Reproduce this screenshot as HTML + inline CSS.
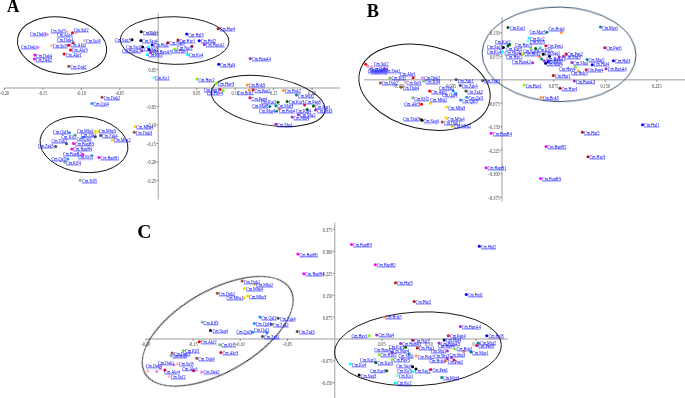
<!DOCTYPE html>
<html><head><meta charset="utf-8"><style>
html,body{margin:0;padding:0;background:#fff;}
body{width:685px;height:398px;overflow:hidden;}
svg{display:block;}
.lb,.tk,.big{opacity:0.999;}
.lb text{font-family:"Liberation Serif",serif;font-size:4.2px;fill:#1a1aff;stroke:#1a1aff;stroke-width:0.05px;}
.tk text{font-family:"Liberation Serif",serif;font-size:4.3px;fill:#3a3a3a;}
.big{font-family:"Liberation Serif",serif;font-weight:bold;fill:#000;}
</style></head><body>
<svg width="685" height="398" viewBox="0 0 685 398">
<g><line x1="4.5" y1="88" x2="340" y2="88" stroke="#bcbcbc" stroke-width="1.4"/>
<line x1="158.3" y1="13.4" x2="158.3" y2="199.5" stroke="#bcbcbc" stroke-width="1.4"/>
<line x1="4.5" y1="88" x2="4.5" y2="90" stroke="#555" stroke-width="0.6"/>
<line x1="42.95" y1="88" x2="42.95" y2="90" stroke="#555" stroke-width="0.6"/>
<line x1="81.4" y1="88" x2="81.4" y2="90" stroke="#555" stroke-width="0.6"/>
<line x1="119.85" y1="88" x2="119.85" y2="90" stroke="#555" stroke-width="0.6"/>
<line x1="196.75" y1="88" x2="196.75" y2="90" stroke="#555" stroke-width="0.6"/>
<line x1="235.2" y1="88" x2="235.2" y2="90" stroke="#555" stroke-width="0.6"/>
<line x1="273.65" y1="88" x2="273.65" y2="90" stroke="#555" stroke-width="0.6"/>
<line x1="312.1" y1="88" x2="312.1" y2="90" stroke="#555" stroke-width="0.6"/>
<line x1="156.3" y1="32.5" x2="158.3" y2="32.5" stroke="#555" stroke-width="0.6"/>
<line x1="156.3" y1="51" x2="158.3" y2="51" stroke="#555" stroke-width="0.6"/>
<line x1="156.3" y1="69.5" x2="158.3" y2="69.5" stroke="#555" stroke-width="0.6"/>
<line x1="156.3" y1="106.5" x2="158.3" y2="106.5" stroke="#555" stroke-width="0.6"/>
<line x1="156.3" y1="125" x2="158.3" y2="125" stroke="#555" stroke-width="0.6"/>
<line x1="156.3" y1="143.5" x2="158.3" y2="143.5" stroke="#555" stroke-width="0.6"/>
<line x1="156.3" y1="162" x2="158.3" y2="162" stroke="#555" stroke-width="0.6"/>
<line x1="156.3" y1="180.5" x2="158.3" y2="180.5" stroke="#555" stroke-width="0.6"/>
<line x1="364.3" y1="79.8" x2="685" y2="79.8" stroke="#bcbcbc" stroke-width="1.4"/>
<line x1="502" y1="17" x2="502" y2="201.6" stroke="#bcbcbc" stroke-width="1.4"/>
<line x1="398.8" y1="79.8" x2="398.8" y2="81.8" stroke="#555" stroke-width="0.6"/>
<line x1="450.4" y1="79.8" x2="450.4" y2="81.8" stroke="#555" stroke-width="0.6"/>
<line x1="553.6" y1="79.8" x2="553.6" y2="81.8" stroke="#555" stroke-width="0.6"/>
<line x1="605.2" y1="79.8" x2="605.2" y2="81.8" stroke="#555" stroke-width="0.6"/>
<line x1="656.8" y1="79.8" x2="656.8" y2="81.8" stroke="#555" stroke-width="0.6"/>
<line x1="500" y1="32.84" x2="502" y2="32.84" stroke="#555" stroke-width="0.6"/>
<line x1="500" y1="56.32" x2="502" y2="56.32" stroke="#555" stroke-width="0.6"/>
<line x1="500" y1="103.28" x2="502" y2="103.28" stroke="#555" stroke-width="0.6"/>
<line x1="500" y1="126.76" x2="502" y2="126.76" stroke="#555" stroke-width="0.6"/>
<line x1="500" y1="150.24" x2="502" y2="150.24" stroke="#555" stroke-width="0.6"/>
<line x1="500" y1="173.72" x2="502" y2="173.72" stroke="#555" stroke-width="0.6"/>
<line x1="500" y1="197.2" x2="502" y2="197.2" stroke="#555" stroke-width="0.6"/>
<line x1="145.5" y1="339" x2="507.8" y2="339" stroke="#bcbcbc" stroke-width="1.4"/>
<line x1="334.7" y1="222.7" x2="334.7" y2="398" stroke="#bcbcbc" stroke-width="1.4"/>
<line x1="145.9" y1="339" x2="145.9" y2="341" stroke="#555" stroke-width="0.6"/>
<line x1="193.1" y1="339" x2="193.1" y2="341" stroke="#555" stroke-width="0.6"/>
<line x1="240.3" y1="339" x2="240.3" y2="341" stroke="#555" stroke-width="0.6"/>
<line x1="287.5" y1="339" x2="287.5" y2="341" stroke="#555" stroke-width="0.6"/>
<line x1="381.9" y1="339" x2="381.9" y2="341" stroke="#555" stroke-width="0.6"/>
<line x1="429.1" y1="339" x2="429.1" y2="341" stroke="#555" stroke-width="0.6"/>
<line x1="476.3" y1="339" x2="476.3" y2="341" stroke="#555" stroke-width="0.6"/>
<line x1="332.7" y1="229.5" x2="334.7" y2="229.5" stroke="#555" stroke-width="0.6"/>
<line x1="332.7" y1="251.4" x2="334.7" y2="251.4" stroke="#555" stroke-width="0.6"/>
<line x1="332.7" y1="273.3" x2="334.7" y2="273.3" stroke="#555" stroke-width="0.6"/>
<line x1="332.7" y1="295.2" x2="334.7" y2="295.2" stroke="#555" stroke-width="0.6"/>
<line x1="332.7" y1="317.1" x2="334.7" y2="317.1" stroke="#555" stroke-width="0.6"/>
<line x1="332.7" y1="360.9" x2="334.7" y2="360.9" stroke="#555" stroke-width="0.6"/>
<line x1="332.7" y1="382.8" x2="334.7" y2="382.8" stroke="#555" stroke-width="0.6"/></g>
<g class="tk"><text transform="matrix(1,0,0,1.38,4.5,94.9)" text-anchor="middle">-0.20</text>
<text transform="matrix(1,0,0,1.38,42.95,94.9)" text-anchor="middle">-0.15</text>
<text transform="matrix(1,0,0,1.38,81.4,94.9)" text-anchor="middle">-0.10</text>
<text transform="matrix(1,0,0,1.38,119.85,94.9)" text-anchor="middle">-0.05</text>
<text transform="matrix(1,0,0,1.38,196.75,94.9)" text-anchor="middle">0.05</text>
<text transform="matrix(1,0,0,1.38,235.2,94.9)" text-anchor="middle">0.10</text>
<text transform="matrix(1,0,0,1.38,273.65,94.9)" text-anchor="middle">0.15</text>
<text transform="matrix(1,0,0,1.38,312.1,94.9)" text-anchor="middle">0.20</text>
<text transform="matrix(1,0,0,1.38,156,34.9)" text-anchor="end">0.15</text>
<text transform="matrix(1,0,0,1.38,156,53.4)" text-anchor="end">0.10</text>
<text transform="matrix(1,0,0,1.38,156,71.9)" text-anchor="end">0.05</text>
<text transform="matrix(1,0,0,1.38,156,108.9)" text-anchor="end">-0.05</text>
<text transform="matrix(1,0,0,1.38,156,127.4)" text-anchor="end">-0.10</text>
<text transform="matrix(1,0,0,1.38,156,145.9)" text-anchor="end">-0.15</text>
<text transform="matrix(1,0,0,1.38,156,164.4)" text-anchor="end">-0.20</text>
<text transform="matrix(1,0,0,1.38,156,182.9)" text-anchor="end">-0.25</text>
<text transform="matrix(1,0,0,1.38,398.8,87.8)" text-anchor="middle">-0.150</text>
<text transform="matrix(1,0,0,1.38,450.4,87.8)" text-anchor="middle">-0.075</text>
<text transform="matrix(1,0,0,1.38,553.6,87.8)" text-anchor="middle">0.075</text>
<text transform="matrix(1,0,0,1.38,605.2,87.8)" text-anchor="middle">0.150</text>
<text transform="matrix(1,0,0,1.38,656.8,87.8)" text-anchor="middle">0.225</text>
<text transform="matrix(1,0,0,1.38,499.7,35.24)" text-anchor="end">0.150</text>
<text transform="matrix(1,0,0,1.38,499.7,58.72)" text-anchor="end">0.075</text>
<text transform="matrix(1,0,0,1.38,499.7,105.68)" text-anchor="end">-0.075</text>
<text transform="matrix(1,0,0,1.38,499.7,129.16)" text-anchor="end">-0.150</text>
<text transform="matrix(1,0,0,1.38,499.7,152.64)" text-anchor="end">-0.225</text>
<text transform="matrix(1,0,0,1.38,499.7,176.12)" text-anchor="end">-0.300</text>
<text transform="matrix(1,0,0,1.38,499.7,199.6)" text-anchor="end">-0.375</text>
<text transform="matrix(1,0,0,1.38,145.9,345.8)" text-anchor="middle">-0.20</text>
<text transform="matrix(1,0,0,1.38,193.1,345.8)" text-anchor="middle">-0.15</text>
<text transform="matrix(1,0,0,1.38,240.3,345.8)" text-anchor="middle">-0.10</text>
<text transform="matrix(1,0,0,1.38,287.5,345.8)" text-anchor="middle">-0.05</text>
<text transform="matrix(1,0,0,1.38,381.9,345.8)" text-anchor="middle">0.05</text>
<text transform="matrix(1,0,0,1.38,429.1,345.8)" text-anchor="middle">0.10</text>
<text transform="matrix(1,0,0,1.38,476.3,345.8)" text-anchor="middle">0.15</text>
<text transform="matrix(1,0,0,1.38,332.4,231.9)" text-anchor="end">0.375</text>
<text transform="matrix(1,0,0,1.38,332.4,253.8)" text-anchor="end">0.300</text>
<text transform="matrix(1,0,0,1.38,332.4,275.7)" text-anchor="end">0.225</text>
<text transform="matrix(1,0,0,1.38,332.4,297.6)" text-anchor="end">0.150</text>
<text transform="matrix(1,0,0,1.38,332.4,319.5)" text-anchor="end">0.075</text>
<text transform="matrix(1,0,0,1.38,332.4,363.3)" text-anchor="end">-0.075</text>
<text transform="matrix(1,0,0,1.38,332.4,385.2)" text-anchor="end">-0.150</text></g>
<g><ellipse cx="62.07" cy="45.48" rx="44.95" ry="28.16" transform="rotate(9.08 62.07 45.48)" fill="none" stroke="#111" stroke-width="0.95"/>
<ellipse cx="174.65" cy="40.55" rx="54.35" ry="23.79" transform="rotate(1.17 174.65 40.55)" fill="none" stroke="#111" stroke-width="0.95"/>
<ellipse cx="268.17" cy="101" rx="57.56" ry="23.97" transform="rotate(10.08 268.17 101)" fill="none" stroke="#111" stroke-width="0.95"/>
<ellipse cx="83.99" cy="144.57" rx="44.12" ry="27.86" transform="rotate(6.28 83.99 144.57)" fill="none" stroke="#111" stroke-width="0.95"/>
<ellipse cx="424.54" cy="87.19" rx="66.63" ry="41.56" transform="rotate(12.89 424.54 87.19)" fill="none" stroke="#111" stroke-width="0.95"/>
<ellipse cx="559.06" cy="54.33" rx="76.98" ry="47.3" transform="rotate(0.97 559.06 54.33)" fill="none" stroke="#34506e" stroke-width="1.0"/>
<ellipse cx="217.67" cy="331.28" rx="83.96" ry="40.69" transform="rotate(-30.05 217.67 331.28)" fill="none" stroke="#111" stroke-width="0.95"/>
<ellipse cx="417.96" cy="348.84" rx="83.4" ry="36.82" transform="rotate(-2.98 417.96 348.84)" fill="none" stroke="#111" stroke-width="0.95"/></g>
<g><circle cx="47.3" cy="34.4" r="1.5" fill="#ee82ee"/>
<circle cx="66.8" cy="31.5" r="1.5" fill="#ffb6c1"/>
<circle cx="72.5" cy="32.7" r="1.5" fill="#ff0000"/>
<circle cx="76.3" cy="32.7" r="1.5" fill="#ffb6c1"/>
<circle cx="73.3" cy="42.8" r="1.5" fill="#a0522d"/>
<circle cx="84.7" cy="40.6" r="1.5" fill="#ffb6c1"/>
<circle cx="38" cy="47.3" r="1.5" fill="#ee82ee"/>
<circle cx="51.7" cy="45.6" r="1.5" fill="#ffb6c1"/>
<circle cx="68.8" cy="45.3" r="1.5" fill="#ff0000"/>
<circle cx="70.5" cy="50" r="1.5" fill="#ff0000"/>
<circle cx="64.1" cy="54" r="1.5" fill="#ff0000"/>
<circle cx="34.9" cy="55" r="1.5" fill="#ff00ff"/>
<circle cx="34.4" cy="59" r="1.5" fill="#ff00ff"/>
<circle cx="68.8" cy="66.3" r="1.5" fill="#a0522d"/>
<circle cx="102" cy="97.3" r="1.5" fill="#a0522d"/>
<circle cx="92" cy="103.4" r="1.5" fill="#1e90ff"/>
<circle cx="69.5" cy="132.8" r="1.5" fill="#1e90ff"/>
<circle cx="75.3" cy="134.9" r="1.5" fill="#7cbb7c"/>
<circle cx="95.2" cy="131.4" r="1.5" fill="#ffd700"/>
<circle cx="98" cy="131.4" r="1.5" fill="#ffd700"/>
<circle cx="95.2" cy="136.7" r="1.5" fill="#505050"/>
<circle cx="100.6" cy="135.5" r="1.5" fill="#505050"/>
<circle cx="83.1" cy="137.3" r="1.5" fill="#1e90ff"/>
<circle cx="66.5" cy="143.7" r="1.5" fill="#505050"/>
<circle cx="55.7" cy="146.4" r="1.5" fill="#505050"/>
<circle cx="73.5" cy="143.5" r="1.5" fill="#ff00ff"/>
<circle cx="71.8" cy="149" r="1.5" fill="#ff00ff"/>
<circle cx="82.9" cy="154.6" r="1.5" fill="#ff00ff"/>
<circle cx="92.2" cy="155.4" r="1.5" fill="#7cbb7c"/>
<circle cx="99" cy="157.5" r="1.5" fill="#ff00ff"/>
<circle cx="67.9" cy="159.1" r="1.5" fill="#1e90ff"/>
<circle cx="64.7" cy="162.3" r="1.5" fill="#7cbb7c"/>
<circle cx="112.3" cy="139.9" r="1.5" fill="#ffd700"/>
<circle cx="80.1" cy="180.3" r="1.5" fill="#7cbb7c"/>
<circle cx="135" cy="126.4" r="1.5" fill="#ffd700"/>
<circle cx="134.3" cy="132.3" r="1.5" fill="#a0522d"/>
<circle cx="141.3" cy="31.8" r="1.5" fill="#000000"/>
<circle cx="132.1" cy="39.8" r="1.5" fill="#000000"/>
<circle cx="140.8" cy="40.6" r="1.5" fill="#000000"/>
<circle cx="152.2" cy="45.1" r="1.5" fill="#0000ff"/>
<circle cx="167.7" cy="42.7" r="1.5" fill="#b01818"/>
<circle cx="142.6" cy="46.9" r="1.5" fill="#000000"/>
<circle cx="148.4" cy="46.9" r="1.5" fill="#00ffff"/>
<circle cx="142.1" cy="50.7" r="1.5" fill="#9932cc"/>
<circle cx="149.2" cy="49.6" r="1.5" fill="#000080"/>
<circle cx="150.9" cy="52.4" r="1.5" fill="#9932cc"/>
<circle cx="147" cy="54.7" r="1.5" fill="#00ffff"/>
<circle cx="178" cy="40" r="1.5" fill="#b01818"/>
<circle cx="186.6" cy="34.1" r="1.5" fill="#0000ff"/>
<circle cx="199.2" cy="40.7" r="1.5" fill="#0000ff"/>
<circle cx="204.3" cy="44.5" r="1.5" fill="#9932cc"/>
<circle cx="218.1" cy="28.8" r="1.5" fill="#b01818"/>
<circle cx="191.9" cy="46.3" r="1.5" fill="#b01818"/>
<circle cx="175.1" cy="49" r="1.5" fill="#7fff00"/>
<circle cx="187.7" cy="54.8" r="1.5" fill="#00ffff"/>
<circle cx="250.2" cy="58.4" r="1.5" fill="#9932cc"/>
<circle cx="218.7" cy="64.3" r="1.5" fill="#0000ff"/>
<circle cx="153.7" cy="77.6" r="1.5" fill="#7fffd4"/>
<circle cx="196.8" cy="79" r="1.5" fill="#7fff00"/>
<circle cx="216.3" cy="83.2" r="1.5" fill="#7fff00"/>
<circle cx="220.1" cy="89.6" r="1.5" fill="#e0103c"/>
<circle cx="223.3" cy="90.5" r="1.5" fill="#7fff00"/>
<circle cx="247.2" cy="84.9" r="1.5" fill="#ff9940"/>
<circle cx="249.3" cy="90.2" r="1.5" fill="#ff9940"/>
<circle cx="253" cy="89.8" r="1.5" fill="#e0103c"/>
<circle cx="249.9" cy="97.8" r="1.5" fill="#e0103c"/>
<circle cx="283.4" cy="90.5" r="1.5" fill="#ff9940"/>
<circle cx="296.5" cy="95" r="1.5" fill="#008b8b"/>
<circle cx="278" cy="102.2" r="1.5" fill="#006400"/>
<circle cx="287.1" cy="101.4" r="1.5" fill="#006400"/>
<circle cx="304.6" cy="105.1" r="1.5" fill="#e0103c"/>
<circle cx="313.4" cy="105.9" r="1.5" fill="#006400"/>
<circle cx="269.8" cy="106.5" r="1.5" fill="#008b8b"/>
<circle cx="275.8" cy="105.7" r="1.5" fill="#008b8b"/>
<circle cx="279.2" cy="109" r="1.5" fill="#ff9940"/>
<circle cx="276.6" cy="111.3" r="1.5" fill="#008b8b"/>
<circle cx="307.2" cy="109.4" r="1.5" fill="#006400"/>
<circle cx="315.5" cy="110.1" r="1.5" fill="#9932cc"/>
<circle cx="298.4" cy="114.8" r="1.5" fill="#9932cc"/>
<circle cx="292.1" cy="117.1" r="1.5" fill="#9932cc"/>
<circle cx="275.8" cy="124.2" r="1.5" fill="#9932cc"/>
<circle cx="365.7" cy="64.2" r="1.5" fill="#ff0000"/>
<circle cx="367.9" cy="66.3" r="1.5" fill="#ee82ee"/>
<circle cx="371.9" cy="66.3" r="1.5" fill="#ffb6c1"/>
<circle cx="370.8" cy="68.4" r="1.5" fill="#7cbb7c"/>
<circle cx="384.4" cy="68.2" r="1.5" fill="#ee82ee"/>
<circle cx="386.1" cy="68.9" r="1.5" fill="#ee82ee"/>
<circle cx="413.2" cy="77.7" r="1.5" fill="#ff0000"/>
<circle cx="389.8" cy="78" r="1.5" fill="#7cbb7c"/>
<circle cx="422.4" cy="77.7" r="1.5" fill="#ee82ee"/>
<circle cx="423.6" cy="81" r="1.5" fill="#7cbb7c"/>
<circle cx="405.1" cy="82.3" r="1.5" fill="#ffb6c1"/>
<circle cx="380.4" cy="83" r="1.5" fill="#a0522d"/>
<circle cx="401" cy="87.3" r="1.5" fill="#a0522d"/>
<circle cx="429.6" cy="91.1" r="1.5" fill="#ff0000"/>
<circle cx="412.8" cy="97.7" r="1.5" fill="#7cbb7c"/>
<circle cx="421.5" cy="104.3" r="1.5" fill="#ff0000"/>
<circle cx="430.3" cy="103.2" r="1.5" fill="#ffd700"/>
<circle cx="420.8" cy="119.3" r="1.5" fill="#a0522d"/>
<circle cx="422" cy="120.3" r="1.5" fill="#000000"/>
<circle cx="446.7" cy="107.1" r="1.5" fill="#ffd700"/>
<circle cx="446" cy="117.7" r="1.5" fill="#ffd700"/>
<circle cx="442.2" cy="122.1" r="1.5" fill="#a0522d"/>
<circle cx="452" cy="126.2" r="1.5" fill="#ffd700"/>
<circle cx="456.1" cy="79.4" r="1.5" fill="#505050"/>
<circle cx="482.6" cy="80.5" r="1.5" fill="#505050"/>
<circle cx="460.2" cy="85.4" r="1.5" fill="#505050"/>
<circle cx="465.9" cy="91.1" r="1.5" fill="#505050"/>
<circle cx="453.2" cy="91.1" r="1.5" fill="#1e90ff"/>
<circle cx="455.8" cy="93.6" r="1.5" fill="#1e90ff"/>
<circle cx="466.7" cy="97.3" r="1.5" fill="#1e90ff"/>
<circle cx="460.5" cy="100.1" r="1.5" fill="#1e90ff"/>
<circle cx="491.2" cy="133.2" r="1.5" fill="#ff00ff"/>
<circle cx="546.1" cy="146.5" r="1.5" fill="#ff00ff"/>
<circle cx="486.1" cy="167.7" r="1.5" fill="#ff00ff"/>
<circle cx="540.5" cy="178.4" r="1.5" fill="#ff00ff"/>
<circle cx="582.4" cy="132.2" r="1.5" fill="#b01818"/>
<circle cx="588" cy="156.7" r="1.5" fill="#b01818"/>
<circle cx="642.5" cy="124.8" r="1.5" fill="#0000ff"/>
<circle cx="541.2" cy="97.5" r="1.5" fill="#ff9940"/>
<circle cx="524.1" cy="84.9" r="1.5" fill="#7fff00"/>
<circle cx="560" cy="88.3" r="1.5" fill="#b01818"/>
<circle cx="574.3" cy="81.1" r="1.5" fill="#9932cc"/>
<circle cx="553.3" cy="75.4" r="1.5" fill="#b01818"/>
<circle cx="508" cy="27.4" r="1.5" fill="#006400"/>
<circle cx="546.8" cy="32.2" r="1.5" fill="#008b8b"/>
<circle cx="561.3" cy="32.6" r="1.5" fill="#ff9940"/>
<circle cx="600.5" cy="26.9" r="1.5" fill="#008b8b"/>
<circle cx="528.9" cy="38" r="1.5" fill="#00ffff"/>
<circle cx="527.8" cy="41.2" r="1.5" fill="#7fffd4"/>
<circle cx="508" cy="45.7" r="1.5" fill="#006400"/>
<circle cx="509.7" cy="44.6" r="1.5" fill="#006400"/>
<circle cx="503.4" cy="47.4" r="1.5" fill="#000000"/>
<circle cx="502.3" cy="52" r="1.5" fill="#00ffff"/>
<circle cx="530.6" cy="48" r="1.5" fill="#7fff00"/>
<circle cx="535.7" cy="48.6" r="1.5" fill="#006400"/>
<circle cx="540.4" cy="47.7" r="1.5" fill="#00ffff"/>
<circle cx="545.8" cy="45.8" r="1.5" fill="#e0103c"/>
<circle cx="520.7" cy="53.7" r="1.5" fill="#9932cc"/>
<circle cx="522.7" cy="54.2" r="1.5" fill="#7fff00"/>
<circle cx="532.6" cy="62.7" r="1.5" fill="#9932cc"/>
<circle cx="543.3" cy="54.3" r="1.5" fill="#000000"/>
<circle cx="549.5" cy="56.2" r="1.5" fill="#000000"/>
<circle cx="539.6" cy="57.1" r="1.5" fill="#ff9940"/>
<circle cx="541.6" cy="59" r="1.5" fill="#008b8b"/>
<circle cx="544.2" cy="60.8" r="1.5" fill="#9932cc"/>
<circle cx="545.6" cy="63.3" r="1.5" fill="#000080"/>
<circle cx="559.2" cy="57.1" r="1.5" fill="#9932cc"/>
<circle cx="563.4" cy="56.2" r="1.5" fill="#9932cc"/>
<circle cx="566" cy="54" r="1.5" fill="#e0103c"/>
<circle cx="548.2" cy="61.8" r="1.5" fill="#0000ff"/>
<circle cx="571.8" cy="62.6" r="1.5" fill="#9932cc"/>
<circle cx="587" cy="59.6" r="1.5" fill="#008b8b"/>
<circle cx="592.2" cy="64.7" r="1.5" fill="#0000ff"/>
<circle cx="613.4" cy="60.7" r="1.5" fill="#0000ff"/>
<circle cx="586.2" cy="69.8" r="1.5" fill="#e0103c"/>
<circle cx="606" cy="68.7" r="1.5" fill="#9932cc"/>
<circle cx="575.5" cy="67.1" r="1.5" fill="#7fff00"/>
<circle cx="578.1" cy="70.9" r="1.5" fill="#ff9940"/>
<circle cx="604.7" cy="47.8" r="1.5" fill="#e0103c"/>
<circle cx="351.5" cy="244.4" r="1.5" fill="#ff00ff"/>
<circle cx="297.9" cy="254.1" r="1.5" fill="#ff00ff"/>
<circle cx="375.3" cy="264.8" r="1.5" fill="#ff00ff"/>
<circle cx="303.8" cy="273.8" r="1.5" fill="#ff00ff"/>
<circle cx="395.5" cy="282.7" r="1.5" fill="#b01818"/>
<circle cx="414.1" cy="301.4" r="1.5" fill="#b01818"/>
<circle cx="479.3" cy="246.2" r="1.5" fill="#0000ff"/>
<circle cx="466.2" cy="294.5" r="1.5" fill="#0000ff"/>
<circle cx="242.1" cy="281.1" r="1.5" fill="#a0522d"/>
<circle cx="254.3" cy="284.4" r="1.5" fill="#ffd700"/>
<circle cx="244.2" cy="288.5" r="1.5" fill="#ffd700"/>
<circle cx="217.3" cy="293.2" r="1.5" fill="#a0522d"/>
<circle cx="244" cy="297.9" r="1.5" fill="#ffd700"/>
<circle cx="247.5" cy="296.1" r="1.5" fill="#ffd700"/>
<circle cx="259.9" cy="316.9" r="1.5" fill="#1e90ff"/>
<circle cx="278.1" cy="318.3" r="1.5" fill="#505050"/>
<circle cx="254.3" cy="323.4" r="1.5" fill="#1e90ff"/>
<circle cx="271.5" cy="324.2" r="1.5" fill="#505050"/>
<circle cx="202.2" cy="322" r="1.5" fill="#7cbb7c"/>
<circle cx="210.5" cy="330.4" r="1.5" fill="#000000"/>
<circle cx="252.8" cy="332.2" r="1.5" fill="#1e90ff"/>
<circle cx="266.9" cy="332.9" r="1.5" fill="#1e90ff"/>
<circle cx="262.5" cy="336.6" r="1.5" fill="#505050"/>
<circle cx="297.2" cy="331.5" r="1.5" fill="#505050"/>
<circle cx="199.2" cy="341.7" r="1.5" fill="#ff0000"/>
<circle cx="219.7" cy="344.8" r="1.5" fill="#7cbb7c"/>
<circle cx="220.8" cy="352.6" r="1.5" fill="#ff0000"/>
<circle cx="183.3" cy="350.7" r="1.5" fill="#7cbb7c"/>
<circle cx="172.2" cy="353.1" r="1.5" fill="#a0522d"/>
<circle cx="171" cy="355.6" r="1.5" fill="#7cbb7c"/>
<circle cx="196.7" cy="358.2" r="1.5" fill="#a0522d"/>
<circle cx="174" cy="365" r="1.5" fill="#ee82ee"/>
<circle cx="177.3" cy="363.9" r="1.5" fill="#ffb6c1"/>
<circle cx="160.4" cy="368.8" r="1.5" fill="#ee82ee"/>
<circle cx="193.6" cy="370.8" r="1.5" fill="#ff0000"/>
<circle cx="147.8" cy="371.1" r="1.5" fill="#ffb6c1"/>
<circle cx="156.8" cy="371.6" r="1.5" fill="#ee82ee"/>
<circle cx="164.8" cy="369.9" r="1.5" fill="#ff0000"/>
<circle cx="201.6" cy="372.1" r="1.5" fill="#ee82ee"/>
<circle cx="169.1" cy="376.5" r="1.5" fill="#ffb6c1"/>
<circle cx="384" cy="317.2" r="1.5" fill="#ff9940"/>
<circle cx="369.2" cy="335.8" r="1.5" fill="#7fff00"/>
<circle cx="376.7" cy="334.9" r="1.5" fill="#9932cc"/>
<circle cx="460.3" cy="326.5" r="1.5" fill="#9932cc"/>
<circle cx="448.3" cy="335.7" r="1.5" fill="#e0103c"/>
<circle cx="486.7" cy="335.8" r="1.5" fill="#0000ff"/>
<circle cx="478.3" cy="343" r="1.5" fill="#008b8b"/>
<circle cx="476.7" cy="345.5" r="1.5" fill="#e0103c"/>
<circle cx="412.6" cy="340.3" r="1.5" fill="#b01818"/>
<circle cx="444.2" cy="340.1" r="1.5" fill="#000080"/>
<circle cx="400.6" cy="343.5" r="1.5" fill="#9932cc"/>
<circle cx="439.1" cy="343" r="1.5" fill="#9932cc"/>
<circle cx="417.3" cy="347.9" r="1.5" fill="#b01818"/>
<circle cx="405.6" cy="347.3" r="1.5" fill="#006400"/>
<circle cx="392.1" cy="352.6" r="1.5" fill="#9932cc"/>
<circle cx="409.1" cy="354.1" r="1.5" fill="#008b8b"/>
<circle cx="416" cy="356.1" r="1.5" fill="#ff9940"/>
<circle cx="379" cy="354.8" r="1.5" fill="#7fff00"/>
<circle cx="392.1" cy="359.5" r="1.5" fill="#7fff00"/>
<circle cx="375.8" cy="362.4" r="1.5" fill="#006400"/>
<circle cx="350.3" cy="364.1" r="1.5" fill="#00ffff"/>
<circle cx="386.7" cy="370.8" r="1.5" fill="#006400"/>
<circle cx="412.6" cy="366.7" r="1.5" fill="#000000"/>
<circle cx="416" cy="368.9" r="1.5" fill="#000000"/>
<circle cx="412.9" cy="371.4" r="1.5" fill="#00ffff"/>
<circle cx="359.1" cy="375" r="1.5" fill="#000000"/>
<circle cx="397.2" cy="375.5" r="1.5" fill="#7fffd4"/>
<circle cx="395.3" cy="383" r="1.5" fill="#00ffff"/>
<circle cx="455" cy="348.9" r="1.5" fill="#7fff00"/>
<circle cx="447.4" cy="351.1" r="1.5" fill="#9932cc"/>
<circle cx="463.8" cy="351.6" r="1.5" fill="#ff9940"/>
<circle cx="470.9" cy="352" r="1.5" fill="#008b8b"/>
<circle cx="451.5" cy="357.4" r="1.5" fill="#9932cc"/>
<circle cx="447.4" cy="358.9" r="1.5" fill="#9932cc"/>
<circle cx="445.8" cy="360.8" r="1.5" fill="#ff9940"/>
<circle cx="454" cy="359.9" r="1.5" fill="#e0103c"/>
<circle cx="430.7" cy="369.6" r="1.5" fill="#e0103c"/>
<circle cx="441.7" cy="377.6" r="1.5" fill="#008b8b"/></g>
<g class="lb"><text transform="matrix(1,0,0,1.3,29.9,36.45)">Cm.Dek3</text>
<text transform="matrix(1,0,0,1.3,50.7,33.25)">Cm.Sul5</text>
<text transform="matrix(1,0,0,1.3,57,36.95)">Cm.Akr4</text>
<text transform="matrix(1,0,0,1.3,73.8,31.65)">Cm.Sul2</text>
<text transform="matrix(1,0,0,1.3,57,42.05)">Cm.Duk4</text>
<text transform="matrix(1,0,0,1.3,85.9,42.85)">Cm.Sul4</text>
<text transform="matrix(1,0,0,1.3,21,48.75)">Cm.Dek1</text>
<text transform="matrix(1,0,0,1.3,52.9,48.35)">Cm.Sul3</text>
<text transform="matrix(1,0,0,1.3,70.5,47.35)">Cm.Akr2</text>
<text transform="matrix(1,0,0,1.3,71.8,52.45)">Cm.Akr3</text>
<text transform="matrix(1,0,0,1.3,65.8,56.65)">Cm.Akr1</text>
<text transform="matrix(1,0,0,1.3,36,57.65)">Cm.Dek4</text>
<text transform="matrix(1,0,0,1.3,35.7,61.65)">Cm.Dek2</text>
<text transform="matrix(1,0,0,1.3,70.5,68.85)">Cm.Duk1</text>
<text transform="matrix(1,0,0,1.3,103.7,99.95)">Cm.Duk2</text>
<text transform="matrix(1,0,0,1.3,93.5,105.95)">Cm.Qal4</text>
<text transform="matrix(1,0,0,1.3,53.1,134.35)">Cm.Qal3</text>
<text transform="matrix(1,0,0,1.3,61.3,139.35)">Cm.Kif2</text>
<text transform="matrix(1,0,0,1.3,77,132.85)">Cm.Mba1</text>
<text transform="matrix(1,0,0,1.3,98.9,133.25)">Cm.Mba3</text>
<text transform="matrix(1,0,0,1.3,81.1,136.65)">Cm.Zak1</text>
<text transform="matrix(1,0,0,1.3,102,138.25)">Cm.Zak4</text>
<text transform="matrix(1,0,0,1.3,76.5,141.35)">Cm.Qal1</text>
<text transform="matrix(1,0,0,1.3,51.4,142.85)">Cm.Zak2</text>
<text transform="matrix(1,0,0,1.3,37.9,148.15)">Cm.Zak3</text>
<text transform="matrix(1,0,0,1.3,75,145.65)">Cm.BanB3</text>
<text transform="matrix(1,0,0,1.3,73.3,151.25)">Cm.BanB4</text>
<text transform="matrix(1,0,0,1.3,63,156.35)">Cm.BanB2</text>
<text transform="matrix(1,0,0,1.3,78.2,159.45)">Cm.Kif1</text>
<text transform="matrix(1,0,0,1.3,100.4,159.75)">Cm.BanB1</text>
<text transform="matrix(1,0,0,1.3,51.4,160.85)">Cm.Qal2</text>
<text transform="matrix(1,0,0,1.3,66,164.75)">Cm.Kif4</text>
<text transform="matrix(1,0,0,1.3,113.7,142.25)">Cm.Mba2</text>
<text transform="matrix(1,0,0,1.3,82.3,182.85)">Cm.Kif5</text>
<text transform="matrix(1,0,0,1.3,136.3,129.35)">Cm.Mba4</text>
<text transform="matrix(1,0,0,1.3,135.8,135.25)">Cm.Duk3</text>
<text transform="matrix(1,0,0,1.3,142.9,34.65)">Cm.Saq1</text>
<text transform="matrix(1,0,0,1.3,115,41.85)">Cm.Saq3</text>
<text transform="matrix(1,0,0,1.3,142.1,43.15)">Cm.Saq4</text>
<text transform="matrix(1,0,0,1.3,153.7,47.35)">Cm.Hal1</text>
<text transform="matrix(1,0,0,1.3,169.2,45.35)">Cm.Nar3</text>
<text transform="matrix(1,0,0,1.3,126.1,48.65)">Cm.Saq2</text>
<text transform="matrix(1,0,0,1.3,144.1,51.35)">Cm.Ko3</text>
<text transform="matrix(1,0,0,1.3,122,52.75)">Cm.BanA2</text>
<text transform="matrix(1,0,0,1.3,152.7,54.45)">Cm.BanA3</text>
<text transform="matrix(1,0,0,1.3,148.2,57.45)">Cm.Ko2</text>
<text transform="matrix(1,0,0,1.3,179.5,42.75)">Cm.Har1</text>
<text transform="matrix(1,0,0,1.3,188.3,37.05)">Cm.Hal3</text>
<text transform="matrix(1,0,0,1.3,200.7,43.35)">Cm.Hal2</text>
<text transform="matrix(1,0,0,1.3,205.8,46.85)">Cm.BanA1</text>
<text transform="matrix(1,0,0,1.3,219.6,31.15)">Cm.Har4</text>
<text transform="matrix(1,0,0,1.3,177.1,50.35)">Cm.Nar2</text>
<text transform="matrix(1,0,0,1.3,171.8,53.35)">Cm.Hav1</text>
<text transform="matrix(1,0,0,1.3,188.9,57.45)">Cm.Ko4</text>
<text transform="matrix(1,0,0,1.3,251.9,60.85)">Cm.BanA4</text>
<text transform="matrix(1,0,0,1.3,220.2,66.85)">Cm.Hal4</text>
<text transform="matrix(1,0,0,1.3,155.1,80.15)">Cm.Ko1</text>
<text transform="matrix(1,0,0,1.3,198.3,81.65)">Cm.Hav2</text>
<text transform="matrix(1,0,0,1.3,217.8,85.85)">Cm.Hav3</text>
<text transform="matrix(1,0,0,1.3,203.8,91.75)">Cm.Pen1</text>
<text transform="matrix(1,0,0,1.3,206.7,95.05)">Cm.Hav4</text>
<text transform="matrix(1,0,0,1.3,248.7,87.45)">Cm.Bok3</text>
<text transform="matrix(1,0,0,1.3,237.6,94.55)">Cm.Bok1</text>
<text transform="matrix(1,0,0,1.3,254.6,92.55)">Cm.Pen2</text>
<text transform="matrix(1,0,0,1.3,251.6,100.65)">Cm.Pen4</text>
<text transform="matrix(1,0,0,1.3,284.8,93.05)">Cm.Bok2</text>
<text transform="matrix(1,0,0,1.3,298,97.75)">Cm.Mar2</text>
<text transform="matrix(1,0,0,1.3,260.8,104.35)">Cm.Kar2</text>
<text transform="matrix(1,0,0,1.3,288.9,103.75)">Cm.Kar3</text>
<text transform="matrix(1,0,0,1.3,305.2,103.95)">Cm.Pen3</text>
<text transform="matrix(1,0,0,1.3,315.1,108.65)">Cm.Kar1</text>
<text transform="matrix(1,0,0,1.3,252.2,108.25)">Cm.Mar6</text>
<text transform="matrix(1,0,0,1.3,277.2,107.65)">Cm.Mar3</text>
<text transform="matrix(1,0,0,1.3,279,113.25)">Cm.Bok4</text>
<text transform="matrix(1,0,0,1.3,259.1,113.25)">Cm.Mar4</text>
<text transform="matrix(1,0,0,1.3,295.9,113.25)">Cm.Kar4</text>
<text transform="matrix(1,0,0,1.3,316.9,112.75)">Cm.Sha3</text>
<text transform="matrix(1,0,0,1.3,300,116.75)">Cm.Sha2</text>
<text transform="matrix(1,0,0,1.3,293.5,119.75)">Cm.Sha4</text>
<text transform="matrix(1,0,0,1.3,277.2,126.75)">Cm.Sha1</text>
<text transform="matrix(1,0,0,1.3,373.8,65.75)">Cm.Sul2</text>
<text transform="matrix(1,0,0,1.3,372.1,71.25)">Cm.Dek4</text>
<text transform="matrix(1,0,0,1.3,369.5,72.35)">Cm.Dek5</text>
<text transform="matrix(1,0,0,1.3,367.7,73.45)">Cm.Sul1</text>
<text transform="matrix(1,0,0,1.3,371,73.95)">Cm.Dek3</text>
<text transform="matrix(1,0,0,1.3,384.4,73.45)">Cm.Dek1</text>
<text transform="matrix(1,0,0,1.3,400,76.05)">Cm.Akr1</text>
<text transform="matrix(1,0,0,1.3,391.4,80.05)">Cm.Kif1</text>
<text transform="matrix(1,0,0,1.3,424.2,80.25)">Cm.Dek2</text>
<text transform="matrix(1,0,0,1.3,425.4,83.95)">Cm.Kif4</text>
<text transform="matrix(1,0,0,1.3,406.6,84.75)">Cm.Sul3</text>
<text transform="matrix(1,0,0,1.3,381.7,85.35)">Cm.Duk2</text>
<text transform="matrix(1,0,0,1.3,402.8,90.05)">Cm.Duk4</text>
<text transform="matrix(1,0,0,1.3,431.3,93.75)">Cm.Akr2</text>
<text transform="matrix(1,0,0,1.3,414.2,100.65)">Cm.Kif2</text>
<text transform="matrix(1,0,0,1.3,404.3,106.05)">Cm.Akr3</text>
<text transform="matrix(1,0,0,1.3,430.3,101.75)">Cm.Mba1</text>
<text transform="matrix(1,0,0,1.3,403.3,121.25)">Cm.Duk3</text>
<text transform="matrix(1,0,0,1.3,423.4,123.45)">Cm.Saq4</text>
<text transform="matrix(1,0,0,1.3,448.3,110.05)">Cm.Mba3</text>
<text transform="matrix(1,0,0,1.3,447.6,120.95)">Cm.Mba4</text>
<text transform="matrix(1,0,0,1.3,443.9,125.05)">Cm.Duk1</text>
<text transform="matrix(1,0,0,1.3,454.2,128.45)">Cm.Mba2</text>
<text transform="matrix(1,0,0,1.3,457.8,82.55)">Cm.Zak1</text>
<text transform="matrix(1,0,0,1.3,484.2,83.45)">Cm.Zak3</text>
<text transform="matrix(1,0,0,1.3,461.8,87.95)">Cm.Zak4</text>
<text transform="matrix(1,0,0,1.3,467.2,94.15)">Cm.Zak2</text>
<text transform="matrix(1,0,0,1.3,439,90.45)">Cm.Qal2</text>
<text transform="matrix(1,0,0,1.3,442.2,97.45)">Cm.Qal4</text>
<text transform="matrix(1,0,0,1.3,468.4,99.85)">Cm.Qal1</text>
<text transform="matrix(1,0,0,1.3,462.3,103.45)">Cm.Qal3</text>
<text transform="matrix(1,0,0,1.3,493,135.75)">Cm.BanB4</text>
<text transform="matrix(1,0,0,1.3,547.5,149.05)">Cm.BanB2</text>
<text transform="matrix(1,0,0,1.3,487.5,170.25)">Cm.BanB1</text>
<text transform="matrix(1,0,0,1.3,542,180.95)">Cm.BanB3</text>
<text transform="matrix(1,0,0,1.3,584,134.75)">Cm.Har2</text>
<text transform="matrix(1,0,0,1.3,589.5,159.25)">Cm.Har3</text>
<text transform="matrix(1,0,0,1.3,644,127.35)">Cm.Hal1</text>
<text transform="matrix(1,0,0,1.3,542.7,99.75)">Cm.Bok5</text>
<text transform="matrix(1,0,0,1.3,525.7,87.55)">Cm.Hav1</text>
<text transform="matrix(1,0,0,1.3,561.5,90.95)">Cm.Har4</text>
<text transform="matrix(1,0,0,1.3,576,83.55)">Cm.BanA3</text>
<text transform="matrix(1,0,0,1.3,555,77.85)">Cm.Har1</text>
<text transform="matrix(1,0,0,1.3,509.9,30.05)">Cm.Kar1</text>
<text transform="matrix(1,0,0,1.3,529.5,33.95)">Cm.Mar5</text>
<text transform="matrix(1,0,0,1.3,548.5,31.35)">Cm.Bok4</text>
<text transform="matrix(1,0,0,1.3,602,29.75)">Cm.Mar1</text>
<text transform="matrix(1,0,0,1.3,530.2,40.55)">Cm.Ko2</text>
<text transform="matrix(1,0,0,1.3,530.2,43.75)">Cm.Ko3</text>
<text transform="matrix(1,0,0,1.3,495,43.75)">Cm.Kar2</text>
<text transform="matrix(1,0,0,1.3,506.3,50.55)">Cm.Kar3</text>
<text transform="matrix(1,0,0,1.3,487,48.65)">Cm.Saq3</text>
<text transform="matrix(1,0,0,1.3,487,53.75)">Cm.Ko4</text>
<text transform="matrix(1,0,0,1.3,515.3,47.15)">Cm.Hav3</text>
<text transform="matrix(1,0,0,1.3,523.2,52.55)">Cm.Kar4</text>
<text transform="matrix(1,0,0,1.3,537.9,52.35)">Cm.Ko1</text>
<text transform="matrix(1,0,0,1.3,547.5,47.85)">Cm.Pen1</text>
<text transform="matrix(1,0,0,1.3,504.6,54.85)">Cm.Sha4</text>
<text transform="matrix(1,0,0,1.3,524.4,56.25)">Cm.Bok2</text>
<text transform="matrix(1,0,0,1.3,506.3,58.85)">Cm.Hav2</text>
<text transform="matrix(1,0,0,1.3,511.9,64.45)">Cm.BanA2</text>
<text transform="matrix(1,0,0,1.3,544.7,55.45)">Cm.Saq1</text>
<text transform="matrix(1,0,0,1.3,565,58.85)">Cm.Sha3</text>
<text transform="matrix(1,0,0,1.3,567.3,55.75)">Cm.Pen2</text>
<text transform="matrix(1,0,0,1.3,546.4,60.55)">Cm.BanA1</text>
<text transform="matrix(1,0,0,1.3,546.4,62.85)">Cm.Hal2</text>
<text transform="matrix(1,0,0,1.3,546.4,65.65)">Cm.Mar4</text>
<text transform="matrix(1,0,0,1.3,573.2,65.15)">Cm.Sha1</text>
<text transform="matrix(1,0,0,1.3,588.5,62.15)">Cm.Mar2</text>
<text transform="matrix(1,0,0,1.3,593.8,66.25)">Cm.Hal4</text>
<text transform="matrix(1,0,0,1.3,615.1,63.05)">Cm.Hal3</text>
<text transform="matrix(1,0,0,1.3,587.7,72.15)">Cm.Pen4</text>
<text transform="matrix(1,0,0,1.3,607.7,71.25)">Cm.BanA4</text>
<text transform="matrix(1,0,0,1.3,559.2,71.35)">Cm.Hav4</text>
<text transform="matrix(1,0,0,1.3,571.3,74.95)">Cm.Bok3</text>
<text transform="matrix(1,0,0,1.3,606.2,50.45)">Cm.Pen5</text>
<text transform="matrix(1,0,0,1.3,353,246.95)">Cm.BanB3</text>
<text transform="matrix(1,0,0,1.3,299.4,256.65)">Cm.BanB1</text>
<text transform="matrix(1,0,0,1.3,376.8,267.35)">Cm.BanB2</text>
<text transform="matrix(1,0,0,1.3,305.3,276.35)">Cm.BanB4</text>
<text transform="matrix(1,0,0,1.3,397,285.25)">Cm.Har3</text>
<text transform="matrix(1,0,0,1.3,415.6,303.95)">Cm.Har2</text>
<text transform="matrix(1,0,0,1.3,480.8,248.75)">Cm.Hal2</text>
<text transform="matrix(1,0,0,1.3,467.7,297.05)">Cm.Hal1</text>
<text transform="matrix(1,0,0,1.3,243.7,283.65)">Cm.Duk1</text>
<text transform="matrix(1,0,0,1.3,256.2,286.85)">Cm.Mba2</text>
<text transform="matrix(1,0,0,1.3,245.9,290.85)">Cm.Mba4</text>
<text transform="matrix(1,0,0,1.3,218.8,295.65)">Cm.Duk2</text>
<text transform="matrix(1,0,0,1.3,226.4,300.05)">Cm.Mba1</text>
<text transform="matrix(1,0,0,1.3,249.2,298.55)">Cm.Mba3</text>
<text transform="matrix(1,0,0,1.3,261.3,319.75)">Cm.Qal2</text>
<text transform="matrix(1,0,0,1.3,280,320.85)">Cm.Zak4</text>
<text transform="matrix(1,0,0,1.3,255.8,325.95)">Cm.Qal4</text>
<text transform="matrix(1,0,0,1.3,273,326.75)">Cm.Zak2</text>
<text transform="matrix(1,0,0,1.3,203.6,324.55)">Cm.Kif3</text>
<text transform="matrix(1,0,0,1.3,212.4,332.95)">Cm.Saq4</text>
<text transform="matrix(1,0,0,1.3,236.5,334.35)">Cm.Qal3</text>
<text transform="matrix(1,0,0,1.3,254,332.15)">Cm.Qal1</text>
<text transform="matrix(1,0,0,1.3,263.9,338.75)">Cm.Zak1</text>
<text transform="matrix(1,0,0,1.3,299,333.85)">Cm.Zak3</text>
<text transform="matrix(1,0,0,1.3,200.8,344.45)">Cm.Akr2</text>
<text transform="matrix(1,0,0,1.3,221.2,347.25)">Cm.Kif5</text>
<text transform="matrix(1,0,0,1.3,222.4,354.95)">Cm.Akr3</text>
<text transform="matrix(1,0,0,1.3,184.9,353.25)">Cm.Kif1</text>
<text transform="matrix(1,0,0,1.3,174,355.85)">Cm.Duk3</text>
<text transform="matrix(1,0,0,1.3,172.4,358.15)">Cm.Kif2</text>
<text transform="matrix(1,0,0,1.3,198.3,361.05)">Cm.Duk4</text>
<text transform="matrix(1,0,0,1.3,158,364.65)">Cm.Dek1</text>
<text transform="matrix(1,0,0,1.3,178.9,366.45)">Cm.Sul3</text>
<text transform="matrix(1,0,0,1.3,145.7,368.45)">Cm.Dek4</text>
<text transform="matrix(1,0,0,1.3,182.2,370.55)">Cm.Akr1</text>
<text transform="matrix(1,0,0,1.3,164.2,374.15)">Cm.Akr4</text>
<text transform="matrix(1,0,0,1.3,203.4,374.45)">Cm.Dek2</text>
<text transform="matrix(1,0,0,1.3,170.7,379.05)">Cm.Sul2</text>
<text transform="matrix(1,0,0,1.3,385.5,319.35)">Cm.Bok5</text>
<text transform="matrix(1,0,0,1.3,351.4,337.55)">Cm.Hav1</text>
<text transform="matrix(1,0,0,1.3,378.4,337.25)">Cm.Sha4</text>
<text transform="matrix(1,0,0,1.3,461.8,329.05)">Cm.BanA4</text>
<text transform="matrix(1,0,0,1.3,450,338.35)">Cm.Pen4</text>
<text transform="matrix(1,0,0,1.3,488.4,338.45)">Cm.Hal3</text>
<text transform="matrix(1,0,0,1.3,480,345.45)">Cm.Mar2</text>
<text transform="matrix(1,0,0,1.3,478.3,348.25)">Cm.Pen3</text>
<text transform="matrix(1,0,0,1.3,414.1,342.75)">Cm.Nar2</text>
<text transform="matrix(1,0,0,1.3,445.8,342.45)">Cm.Hal4</text>
<text transform="matrix(1,0,0,1.3,402.2,346.15)">Cm.BanA1</text>
<text transform="matrix(1,0,0,1.3,440.8,345.55)">Cm.BanA3</text>
<text transform="matrix(1,0,0,1.3,438.3,348.45)">Cm.Hav4</text>
<text transform="matrix(1,0,0,1.3,418.8,349.95)">Cm.Har1</text>
<text transform="matrix(1,0,0,1.3,389,349.35)">Cm.Kar1</text>
<text transform="matrix(1,0,0,1.3,374.2,352.45)">Cm.BanA2</text>
<text transform="matrix(1,0,0,1.3,392.8,352.85)">Cm.Mar4</text>
<text transform="matrix(1,0,0,1.3,398.4,358.15)">Cm.Saq1</text>
<text transform="matrix(1,0,0,1.3,417.8,358.75)">Cm.Bok2</text>
<text transform="matrix(1,0,0,1.3,380.5,357.15)">Cm.Hav2</text>
<text transform="matrix(1,0,0,1.3,393.6,361.85)">Cm.Hav3</text>
<text transform="matrix(1,0,0,1.3,360.1,361.65)">Cm.Kar2</text>
<text transform="matrix(1,0,0,1.3,377.4,365.35)">Cm.Kar3</text>
<text transform="matrix(1,0,0,1.3,351.9,366.65)">Cm.Ko4</text>
<text transform="matrix(1,0,0,1.3,370.2,372.55)">Cm.Kar4</text>
<text transform="matrix(1,0,0,1.3,396.3,368.45)">Cm.Saq4</text>
<text transform="matrix(1,0,0,1.3,397.2,373.15)">Cm.Ko3</text>
<text transform="matrix(1,0,0,1.3,415,373.25)">Cm.Saq2</text>
<text transform="matrix(1,0,0,1.3,360.7,377.55)">Cm.Saq3</text>
<text transform="matrix(1,0,0,1.3,398.8,378.25)">Cm.Ko1</text>
<text transform="matrix(1,0,0,1.3,397.2,385.45)">Cm.Ko2</text>
<text transform="matrix(1,0,0,1.3,456.5,350.65)">Cm.Bok1</text>
<text transform="matrix(1,0,0,1.3,430.7,353.15)">Cm.Sha1</text>
<text transform="matrix(1,0,0,1.3,472.2,354.65)">Cm.Mar1</text>
<text transform="matrix(1,0,0,1.3,433.9,358.15)">Cm.Sha2</text>
<text transform="matrix(1,0,0,1.3,449.6,356.95)">Cm.Sha3</text>
<text transform="matrix(1,0,0,1.3,429.5,362.55)">Cm.Bok4</text>
<text transform="matrix(1,0,0,1.3,447.7,363.85)">Cm.Pen2</text>
<text transform="matrix(1,0,0,1.3,432.4,372.25)">Cm.Pen1</text>
<text transform="matrix(1,0,0,1.3,443,380.05)">Cm.Mar3</text></g>
<g fill="#3030ff"><rect x="29.9" y="36.75" width="16.22" height="0.32"/>
<rect x="50.7" y="33.55" width="14.82" height="0.32"/>
<rect x="57" y="37.25" width="15.75" height="0.32"/>
<rect x="73.8" y="31.95" width="14.82" height="0.32"/>
<rect x="57" y="42.35" width="16.45" height="0.32"/>
<rect x="85.9" y="43.15" width="14.82" height="0.32"/>
<rect x="21" y="49.05" width="16.22" height="0.32"/>
<rect x="52.9" y="48.65" width="14.82" height="0.32"/>
<rect x="70.5" y="47.65" width="15.75" height="0.32"/>
<rect x="71.8" y="52.75" width="15.75" height="0.32"/>
<rect x="65.8" y="56.95" width="15.75" height="0.32"/>
<rect x="36" y="57.95" width="16.22" height="0.32"/>
<rect x="35.7" y="61.95" width="16.22" height="0.32"/>
<rect x="70.5" y="69.15" width="16.45" height="0.32"/>
<rect x="103.7" y="100.25" width="16.45" height="0.32"/>
<rect x="93.5" y="106.25" width="15.28" height="0.32"/>
<rect x="53.1" y="134.65" width="15.28" height="0.32"/>
<rect x="61.3" y="139.65" width="14.82" height="0.32"/>
<rect x="77" y="133.15" width="16.92" height="0.32"/>
<rect x="98.9" y="133.55" width="16.92" height="0.32"/>
<rect x="81.1" y="136.95" width="15.75" height="0.32"/>
<rect x="102" y="138.55" width="15.75" height="0.32"/>
<rect x="76.5" y="141.65" width="15.28" height="0.32"/>
<rect x="51.4" y="143.15" width="15.75" height="0.32"/>
<rect x="37.9" y="148.45" width="15.75" height="0.32"/>
<rect x="75" y="145.95" width="18.79" height="0.32"/>
<rect x="73.3" y="151.55" width="18.79" height="0.32"/>
<rect x="63" y="156.65" width="18.79" height="0.32"/>
<rect x="78.2" y="159.75" width="14.82" height="0.32"/>
<rect x="100.4" y="160.05" width="18.79" height="0.32"/>
<rect x="51.4" y="161.15" width="15.28" height="0.32"/>
<rect x="66" y="165.05" width="14.82" height="0.32"/>
<rect x="113.7" y="142.55" width="16.92" height="0.32"/>
<rect x="82.3" y="183.15" width="14.82" height="0.32"/>
<rect x="136.3" y="129.65" width="16.92" height="0.32"/>
<rect x="135.8" y="135.55" width="16.45" height="0.32"/>
<rect x="142.9" y="34.95" width="15.52" height="0.32"/>
<rect x="115" y="42.15" width="15.52" height="0.32"/>
<rect x="142.1" y="43.45" width="15.52" height="0.32"/>
<rect x="153.7" y="47.65" width="15.28" height="0.32"/>
<rect x="169.2" y="45.65" width="15.51" height="0.32"/>
<rect x="126.1" y="48.95" width="15.52" height="0.32"/>
<rect x="144.1" y="51.65" width="14.35" height="0.32"/>
<rect x="122" y="53.05" width="19.02" height="0.32"/>
<rect x="152.7" y="54.75" width="19.02" height="0.32"/>
<rect x="148.2" y="57.75" width="14.35" height="0.32"/>
<rect x="179.5" y="43.05" width="15.51" height="0.32"/>
<rect x="188.3" y="37.35" width="15.28" height="0.32"/>
<rect x="200.7" y="43.65" width="15.28" height="0.32"/>
<rect x="205.8" y="47.15" width="19.02" height="0.32"/>
<rect x="219.6" y="31.45" width="15.51" height="0.32"/>
<rect x="177.1" y="50.65" width="15.51" height="0.32"/>
<rect x="171.8" y="53.65" width="16.22" height="0.32"/>
<rect x="188.9" y="57.75" width="14.35" height="0.32"/>
<rect x="251.9" y="61.15" width="19.02" height="0.32"/>
<rect x="220.2" y="67.15" width="15.28" height="0.32"/>
<rect x="155.1" y="80.45" width="14.35" height="0.32"/>
<rect x="198.3" y="81.95" width="16.22" height="0.32"/>
<rect x="217.8" y="86.15" width="16.22" height="0.32"/>
<rect x="203.8" y="92.05" width="15.52" height="0.32"/>
<rect x="206.7" y="95.35" width="16.22" height="0.32"/>
<rect x="248.7" y="87.75" width="16.22" height="0.32"/>
<rect x="237.6" y="94.85" width="16.22" height="0.32"/>
<rect x="254.6" y="92.85" width="15.52" height="0.32"/>
<rect x="251.6" y="100.95" width="15.52" height="0.32"/>
<rect x="284.8" y="93.35" width="16.22" height="0.32"/>
<rect x="298" y="98.05" width="16.22" height="0.32"/>
<rect x="260.8" y="104.65" width="15.51" height="0.32"/>
<rect x="288.9" y="104.05" width="15.51" height="0.32"/>
<rect x="305.2" y="104.25" width="15.52" height="0.32"/>
<rect x="315.1" y="108.95" width="15.51" height="0.32"/>
<rect x="252.2" y="108.55" width="16.22" height="0.32"/>
<rect x="277.2" y="107.95" width="16.22" height="0.32"/>
<rect x="279" y="113.55" width="16.22" height="0.32"/>
<rect x="259.1" y="113.55" width="16.22" height="0.32"/>
<rect x="295.9" y="113.55" width="15.51" height="0.32"/>
<rect x="316.9" y="113.05" width="15.52" height="0.32"/>
<rect x="300" y="117.05" width="15.52" height="0.32"/>
<rect x="293.5" y="120.05" width="15.52" height="0.32"/>
<rect x="277.2" y="127.05" width="15.52" height="0.32"/>
<rect x="373.8" y="66.05" width="14.82" height="0.32"/>
<rect x="372.1" y="71.55" width="16.22" height="0.32"/>
<rect x="369.5" y="72.65" width="16.22" height="0.32"/>
<rect x="367.7" y="73.75" width="14.82" height="0.32"/>
<rect x="371" y="74.25" width="16.22" height="0.32"/>
<rect x="384.4" y="73.75" width="16.22" height="0.32"/>
<rect x="400" y="76.35" width="15.75" height="0.32"/>
<rect x="391.4" y="80.35" width="14.82" height="0.32"/>
<rect x="424.2" y="80.55" width="16.22" height="0.32"/>
<rect x="425.4" y="84.25" width="14.82" height="0.32"/>
<rect x="406.6" y="85.05" width="14.82" height="0.32"/>
<rect x="381.7" y="85.65" width="16.45" height="0.32"/>
<rect x="402.8" y="90.35" width="16.45" height="0.32"/>
<rect x="431.3" y="94.05" width="15.75" height="0.32"/>
<rect x="414.2" y="100.95" width="14.82" height="0.32"/>
<rect x="404.3" y="106.35" width="15.75" height="0.32"/>
<rect x="430.3" y="102.05" width="16.92" height="0.32"/>
<rect x="403.3" y="121.55" width="16.45" height="0.32"/>
<rect x="423.4" y="123.75" width="15.52" height="0.32"/>
<rect x="448.3" y="110.35" width="16.92" height="0.32"/>
<rect x="447.6" y="121.25" width="16.92" height="0.32"/>
<rect x="443.9" y="125.35" width="16.45" height="0.32"/>
<rect x="454.2" y="128.75" width="16.92" height="0.32"/>
<rect x="457.8" y="82.85" width="15.75" height="0.32"/>
<rect x="484.2" y="83.75" width="15.75" height="0.32"/>
<rect x="461.8" y="88.25" width="15.75" height="0.32"/>
<rect x="467.2" y="94.45" width="15.75" height="0.32"/>
<rect x="439" y="90.75" width="15.28" height="0.32"/>
<rect x="442.2" y="97.75" width="15.28" height="0.32"/>
<rect x="468.4" y="100.15" width="15.28" height="0.32"/>
<rect x="462.3" y="103.75" width="15.28" height="0.32"/>
<rect x="493" y="136.05" width="18.79" height="0.32"/>
<rect x="547.5" y="149.35" width="18.79" height="0.32"/>
<rect x="487.5" y="170.55" width="18.79" height="0.32"/>
<rect x="542" y="181.25" width="18.79" height="0.32"/>
<rect x="584" y="135.05" width="15.51" height="0.32"/>
<rect x="589.5" y="159.55" width="15.51" height="0.32"/>
<rect x="644" y="127.65" width="15.28" height="0.32"/>
<rect x="542.7" y="100.05" width="16.22" height="0.32"/>
<rect x="525.7" y="87.85" width="16.22" height="0.32"/>
<rect x="561.5" y="91.25" width="15.51" height="0.32"/>
<rect x="576" y="83.85" width="19.02" height="0.32"/>
<rect x="555" y="78.15" width="15.51" height="0.32"/>
<rect x="509.9" y="30.35" width="15.51" height="0.32"/>
<rect x="529.5" y="34.25" width="16.22" height="0.32"/>
<rect x="548.5" y="31.65" width="16.22" height="0.32"/>
<rect x="602" y="30.05" width="16.22" height="0.32"/>
<rect x="530.2" y="40.85" width="14.35" height="0.32"/>
<rect x="530.2" y="44.05" width="14.35" height="0.32"/>
<rect x="495" y="44.05" width="15.51" height="0.32"/>
<rect x="506.3" y="50.85" width="15.51" height="0.32"/>
<rect x="487" y="48.95" width="15.52" height="0.32"/>
<rect x="487" y="54.05" width="14.35" height="0.32"/>
<rect x="515.3" y="47.45" width="16.22" height="0.32"/>
<rect x="523.2" y="52.85" width="15.51" height="0.32"/>
<rect x="537.9" y="52.65" width="14.35" height="0.32"/>
<rect x="547.5" y="48.15" width="15.52" height="0.32"/>
<rect x="504.6" y="55.15" width="15.52" height="0.32"/>
<rect x="524.4" y="56.55" width="16.22" height="0.32"/>
<rect x="506.3" y="59.15" width="16.22" height="0.32"/>
<rect x="511.9" y="64.75" width="19.02" height="0.32"/>
<rect x="544.7" y="55.75" width="15.52" height="0.32"/>
<rect x="565" y="59.15" width="15.52" height="0.32"/>
<rect x="567.3" y="56.05" width="15.52" height="0.32"/>
<rect x="546.4" y="60.85" width="19.02" height="0.32"/>
<rect x="546.4" y="63.15" width="15.28" height="0.32"/>
<rect x="546.4" y="65.95" width="16.22" height="0.32"/>
<rect x="573.2" y="65.45" width="15.52" height="0.32"/>
<rect x="588.5" y="62.45" width="16.22" height="0.32"/>
<rect x="593.8" y="66.55" width="15.28" height="0.32"/>
<rect x="615.1" y="63.35" width="15.28" height="0.32"/>
<rect x="587.7" y="72.45" width="15.52" height="0.32"/>
<rect x="607.7" y="71.55" width="19.02" height="0.32"/>
<rect x="559.2" y="71.65" width="16.22" height="0.32"/>
<rect x="571.3" y="75.25" width="16.22" height="0.32"/>
<rect x="606.2" y="50.75" width="15.52" height="0.32"/>
<rect x="353" y="247.25" width="18.79" height="0.32"/>
<rect x="299.4" y="256.95" width="18.79" height="0.32"/>
<rect x="376.8" y="267.65" width="18.79" height="0.32"/>
<rect x="305.3" y="276.65" width="18.79" height="0.32"/>
<rect x="397" y="285.55" width="15.51" height="0.32"/>
<rect x="415.6" y="304.25" width="15.51" height="0.32"/>
<rect x="480.8" y="249.05" width="15.28" height="0.32"/>
<rect x="467.7" y="297.35" width="15.28" height="0.32"/>
<rect x="243.7" y="283.95" width="16.45" height="0.32"/>
<rect x="256.2" y="287.15" width="16.92" height="0.32"/>
<rect x="245.9" y="291.15" width="16.92" height="0.32"/>
<rect x="218.8" y="295.95" width="16.45" height="0.32"/>
<rect x="226.4" y="300.35" width="16.92" height="0.32"/>
<rect x="249.2" y="298.85" width="16.92" height="0.32"/>
<rect x="261.3" y="320.05" width="15.28" height="0.32"/>
<rect x="280" y="321.15" width="15.75" height="0.32"/>
<rect x="255.8" y="326.25" width="15.28" height="0.32"/>
<rect x="273" y="327.05" width="15.75" height="0.32"/>
<rect x="203.6" y="324.85" width="14.82" height="0.32"/>
<rect x="212.4" y="333.25" width="15.52" height="0.32"/>
<rect x="236.5" y="334.65" width="15.28" height="0.32"/>
<rect x="254" y="332.45" width="15.28" height="0.32"/>
<rect x="263.9" y="339.05" width="15.75" height="0.32"/>
<rect x="299" y="334.15" width="15.75" height="0.32"/>
<rect x="200.8" y="344.75" width="15.75" height="0.32"/>
<rect x="221.2" y="347.55" width="14.82" height="0.32"/>
<rect x="222.4" y="355.25" width="15.75" height="0.32"/>
<rect x="184.9" y="353.55" width="14.82" height="0.32"/>
<rect x="174" y="356.15" width="16.45" height="0.32"/>
<rect x="172.4" y="358.45" width="14.82" height="0.32"/>
<rect x="198.3" y="361.35" width="16.45" height="0.32"/>
<rect x="158" y="364.95" width="16.22" height="0.32"/>
<rect x="178.9" y="366.75" width="14.82" height="0.32"/>
<rect x="145.7" y="368.75" width="16.22" height="0.32"/>
<rect x="182.2" y="370.85" width="15.75" height="0.32"/>
<rect x="164.2" y="374.45" width="15.75" height="0.32"/>
<rect x="203.4" y="374.75" width="16.22" height="0.32"/>
<rect x="170.7" y="379.35" width="14.82" height="0.32"/>
<rect x="385.5" y="319.65" width="16.22" height="0.32"/>
<rect x="351.4" y="337.85" width="16.22" height="0.32"/>
<rect x="378.4" y="337.55" width="15.52" height="0.32"/>
<rect x="461.8" y="329.35" width="19.02" height="0.32"/>
<rect x="450" y="338.65" width="15.52" height="0.32"/>
<rect x="488.4" y="338.75" width="15.28" height="0.32"/>
<rect x="480" y="345.75" width="16.22" height="0.32"/>
<rect x="478.3" y="348.55" width="15.52" height="0.32"/>
<rect x="414.1" y="343.05" width="15.51" height="0.32"/>
<rect x="445.8" y="342.75" width="15.28" height="0.32"/>
<rect x="402.2" y="346.45" width="19.02" height="0.32"/>
<rect x="440.8" y="345.85" width="19.02" height="0.32"/>
<rect x="438.3" y="348.75" width="16.22" height="0.32"/>
<rect x="418.8" y="350.25" width="15.51" height="0.32"/>
<rect x="389" y="349.65" width="15.51" height="0.32"/>
<rect x="374.2" y="352.75" width="19.02" height="0.32"/>
<rect x="392.8" y="353.15" width="16.22" height="0.32"/>
<rect x="398.4" y="358.45" width="15.52" height="0.32"/>
<rect x="417.8" y="359.05" width="16.22" height="0.32"/>
<rect x="380.5" y="357.45" width="16.22" height="0.32"/>
<rect x="393.6" y="362.15" width="16.22" height="0.32"/>
<rect x="360.1" y="361.95" width="15.51" height="0.32"/>
<rect x="377.4" y="365.65" width="15.51" height="0.32"/>
<rect x="351.9" y="366.95" width="14.35" height="0.32"/>
<rect x="370.2" y="372.85" width="15.51" height="0.32"/>
<rect x="396.3" y="368.75" width="15.52" height="0.32"/>
<rect x="397.2" y="373.45" width="14.35" height="0.32"/>
<rect x="415" y="373.55" width="15.52" height="0.32"/>
<rect x="360.7" y="377.85" width="15.52" height="0.32"/>
<rect x="398.8" y="378.55" width="14.35" height="0.32"/>
<rect x="397.2" y="385.75" width="14.35" height="0.32"/>
<rect x="456.5" y="350.95" width="16.22" height="0.32"/>
<rect x="430.7" y="353.45" width="15.52" height="0.32"/>
<rect x="472.2" y="354.95" width="16.22" height="0.32"/>
<rect x="433.9" y="358.45" width="15.52" height="0.32"/>
<rect x="449.6" y="357.25" width="15.52" height="0.32"/>
<rect x="429.5" y="362.85" width="16.22" height="0.32"/>
<rect x="447.7" y="364.15" width="15.52" height="0.32"/>
<rect x="432.4" y="372.55" width="15.52" height="0.32"/>
<rect x="443" y="380.35" width="16.22" height="0.32"/></g>
<text class="big" transform="matrix(1,0,0,1.1,6.9,11.8)" font-size="17">A</text>
<text class="big" transform="matrix(1,0,0,1.05,366.8,16.9)" font-size="18.3">B</text>
<text class="big" transform="matrix(1,0,0,0.965,137.3,238.4)" font-size="19.6">C</text>
</svg>
</body></html>
